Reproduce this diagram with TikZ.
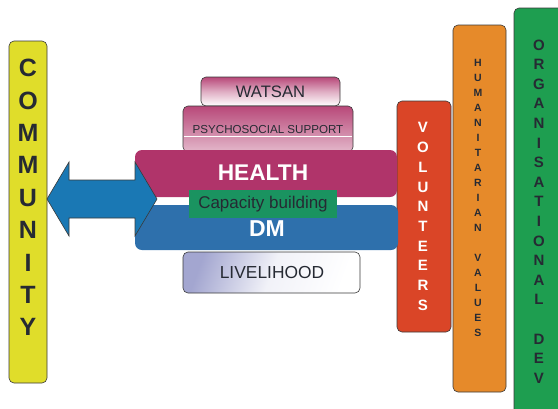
\documentclass[tikz,border=0pt]{standalone}
\usepackage{fontspec}
\setmainfont{Liberation Sans}
\usetikzlibrary{shapes.arrows}
\definecolor{cyel}{HTML}{E0DD2A}
\definecolor{cmag}{HTML}{B0346A}
\definecolor{cblu}{HTML}{2E70AC}
\definecolor{carr}{HTML}{1A78B4}
\definecolor{cgrn}{HTML}{1A9360}
\definecolor{cred}{HTML}{DA4527}
\definecolor{corg}{HTML}{E68A2A}
\definecolor{cgrn2}{HTML}{1E9E50}
\definecolor{cedge}{HTML}{3A3A3A}
\definecolor{ctxt}{HTML}{262A33}
\definecolor{clav}{HTML}{A3A6D0}
\tikzset{
  box/.style={draw=cedge, line width=0.6pt, rounded corners=5pt},
  band/.style={rounded corners=7pt},
  stack/.style={align=center, font=\bfseries, inner sep=0pt},
}
\begin{document}
\begin{tikzpicture}[x=1pt,y=-1pt]
\useasboundingbox (0,0) rectangle (558,408);
% right columns
\draw[box, fill=cgrn2] (514,8) rectangle (580,430);
\node[stack, text=ctxt, font=\bfseries\fontsize{15}{19.6}\selectfont] (org) at (539,211.5)
 {O\\R\\G\\A\\N\\I\\S\\A\\T\\I\\O\\N\\A\\L\\[19.6pt]D\\E\\V};
\draw[box, fill=corg] (453,25) rectangle (506,392);
\node[stack, text=ctxt, font=\bfseries\fontsize{10.5}{15}\selectfont] (hum) at (478,198)
 {H\\U\\M\\A\\N\\I\\T\\A\\R\\I\\A\\N\\[15pt]V\\A\\L\\U\\E\\S};
\draw[box, fill=cred] (397,101) rectangle (451,332);
\node[stack, text=white, font=\bfseries\fontsize{15}{19.7}\selectfont] (vol) at (423,216.5)
 {V\\O\\L\\U\\N\\T\\E\\E\\R\\S};
% community
\draw[box, fill=cyel] (9,41) rectangle (47,383);
\node[stack, text=ctxt, font=\bfseries\fontsize{25}{32.4}\selectfont] (com) at (28,197.5)
 {C\\O\\M\\M\\U\\N\\I\\T\\Y};
% stacked boxes
\draw[box, top color=cmag!90, bottom color=white, middle color=cmag!40] (201,77) rectangle (340,106);
\node[text=ctxt, font=\fontsize{16.6}{18}\selectfont] (wat) at (270.5,92) {WATSAN};
\draw[box, top color=cmag!90, bottom color=cmag!35] (183,106) rectangle (353,152);
\draw[white, line width=0.8pt] (184,136) -- (352,136);
\node[text=ctxt, font=\fontsize{11.6}{13}\selectfont] (psy) at (268,130) {PSYCHOSOCIAL SUPPORT};
% bands
\fill[band, cmag] (135,150) rectangle (397,197);
\fill[band, cblu] (135,205) rectangle (398,250);
\node[text=white, font=\bfseries\fontsize{22.7}{24}\selectfont] (hea) at (263,173) {HEALTH};
\node[text=white, font=\bfseries\fontsize{23}{24}\selectfont] (dm) at (267,229) {DM};
\node[fill=cgrn, minimum width=148pt, minimum height=28pt, inner sep=0pt, text=ctxt, font=\fontsize{17}{18}\selectfont] (cap) at (263,204) {Capacity building};
% livelihood
\draw[box, left color=clav, right color=white, middle color=white!85!clav, shading angle=70] (183,252) rectangle (360,293);
\node[text=ctxt, font=\fontsize{17.4}{18}\selectfont] (liv) at (272,273) {LIVELIHOOD};
% double arrow
\draw[draw=cedge, line width=0.6pt, fill=carr] (47,199) -- (69,162) -- (69,180) -- (135,180) -- (135,162) -- (157,199) -- (135,236) -- (135,218) -- (69,218) -- (69,236) -- cycle;
\end{tikzpicture}
\end{document}
